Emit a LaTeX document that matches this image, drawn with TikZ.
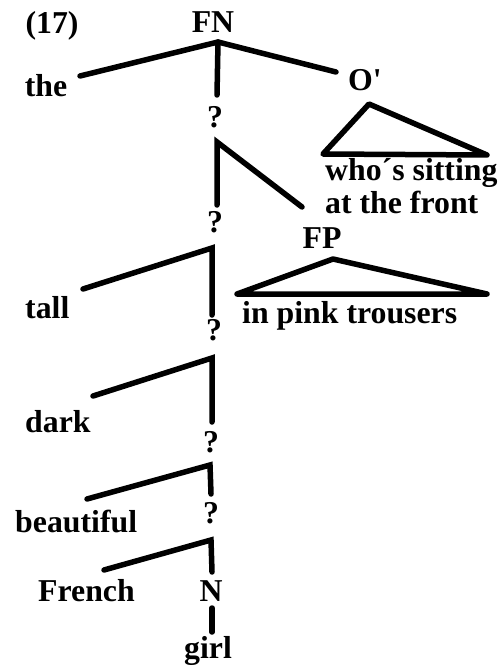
\documentclass[tikz,border=0pt]{standalone}
\usepackage{fontspec}
\setmainfont{Liberation Serif}[Ligatures=TeXOff]
\usepackage{tikz}

\begin{document}
\begin{tikzpicture}[x=1pt,y=-1pt,
        branch/.style={line width=5.5pt,line cap=round},
        roof/.style={line width=5.5pt,line join=round,line cap=round},
        lbl/.style={anchor=base,inner sep=0pt,font=\fontsize{31.8}{35}\selectfont\bfseries},
        lbll/.style={lbl,anchor=base west}]
        \useasboundingbox (0,0) rectangle (497,668);

        % labels
        \node[lbl] (ex) at (52,34) {(17)};
        \node[lbl] (fn) at (213,33) {FN};
        \node[lbl] (the) at (46,97) {the};
        \node[lbll] (obar) at (348,91) {O'};
        \node[lbl] (q1) at (215,128) {?};
        \node[lbll] (who) at (325,181) {who´s sitting};
        \node[lbll] (front) at (325,213) {at the front};
        \node[lbl] (q2) at (215,232) {?};
        \node[lbl] (fp) at (322,248) {FP};
        \node[lbll] (inpink) at (242,323) {in pink trousers};
        \node[lbll] (tall) at (25,318) {tall};
        \node[lbl] (q3) at (214,340) {?};
        \node[lbll] (dark) at (25,432) {dark};
        \node[lbl] (q4) at (211,452) {?};
        \node[lbll] (beautiful) at (15,532) {beautiful};
        \node[lbl] (q5) at (211,523) {?};
        \node[lbll] (french) at (38,601) {French};
        \node[lbl] (n) at (211,601) {N};
        \node[lbl] (girl) at (208,658) {girl};

        % branch ends
        \coordinate (fn-top) at (218,42);
        \coordinate (fn-l) at (80,76);
        \coordinate (fn-r) at (336,72);
        \coordinate (fn-d) at (217,95);
        \coordinate (o-top) at (369,104);
        \coordinate (o-l) at (323,154);
        \coordinate (o-r) at (487,155);
        \coordinate (q1-top) at (217,142);
        \coordinate (q1-d) at (217,205);
        \coordinate (q1-r) at (302,207);
        \coordinate (fp-top) at (333,259);
        \coordinate (fp-l) at (237,294);
        \coordinate (fp-r) at (487,294);
        \coordinate (q2-top) at (212,248);
        \coordinate (q2-l) at (83,289);
        \coordinate (q2-d) at (212,315);
        \coordinate (q3-top) at (212,358);
        \coordinate (q3-l) at (93,396);
        \coordinate (q3-d) at (212,422);
        \coordinate (q4-top) at (210,465);
        \coordinate (q4-l) at (87,499);
        \coordinate (q4-d) at (211,494);
        \coordinate (q5-top) at (211,540);
        \coordinate (q5-l) at (104,570);
        \coordinate (q5-d) at (212,572);
        \coordinate (n-top) at (212,608);
        \coordinate (n-d) at (212,632);

        % branches
        \draw[branch] (fn-l) -- (fn-top) -- (fn-r);
        \draw[branch] (fn-top) -- (fn-d);
        \draw[roof] (o-top) -- (o-l) -- (o-r) -- cycle;
        \draw[branch] (q1-d) -- (q1-top) -- (q1-r);
        \draw[roof] (fp-top) -- (fp-l) -- (fp-r) -- cycle;
        \draw[branch] (q2-l) -- (q2-top) -- (q2-d);
        \draw[branch] (q3-l) -- (q3-top) -- (q3-d);
        \draw[branch] (q4-l) -- (q4-top) -- (q4-d);
        \draw[branch] (q5-l) -- (q5-top) -- (q5-d);
        \draw[branch] (n-top) -- (n-d);
\end{tikzpicture}
\end{document}
